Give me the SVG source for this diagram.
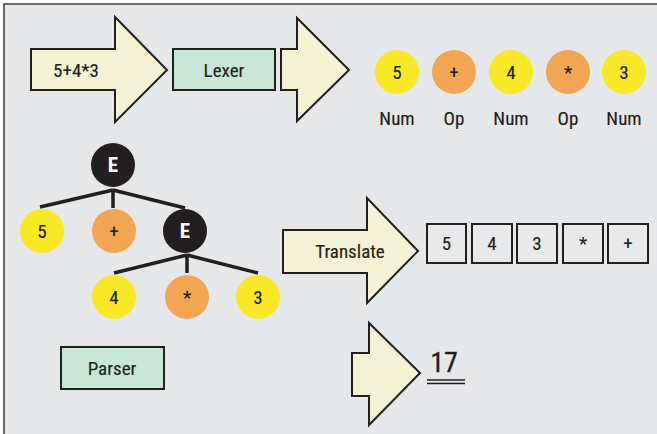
<svg xmlns="http://www.w3.org/2000/svg" width="657" height="434" viewBox="0 0 657 434">
<style>
.t{font-family:Roboto,"Liberation Sans",sans-serif;font-stretch:condensed;font-weight:400;font-size:19px;fill:#231f20;stroke:#231f20;stroke-width:0.15;text-anchor:middle;dominant-baseline:central}
.arr{fill:#f3f2d5;stroke:#231f20;stroke-width:2;stroke-linejoin:miter}
.box{fill:#c9e7d7;stroke:#231f20;stroke-width:2}
.sq{fill:#e8e9ea;stroke:#231f20;stroke-width:2}
.y{fill:#f8e826}
.o{fill:#f2a553}
.k{fill:#231f20}
.w{fill:#ffffff;stroke:none;font-weight:bold;font-size:21px}
.ln{stroke:#231f20;stroke-width:3.5;fill:none}
</style>
<rect x="0" y="0" width="657" height="434" fill="#ffffff"/>
<rect x="4" y="4" width="653" height="430" fill="#e6e7e8"/>
<path d="M4 434V4H657" fill="none" stroke="#3a3a3a" stroke-width="1.5"/>

<g id="input">
<path class="arr" d="M31 49H115V17L167 70L115 122V90H31Z"/>
<text class="t" x="76" y="70">5+4*3</text>
</g>
<g id="lexer">
<rect class="box" x="173" y="49" width="102" height="41"/>
<text class="t" x="224" y="70">Lexer</text>
</g>
<g id="arrow2">
<path class="arr" d="M281 49H297V18L349 70L297 121V90H281Z"/>
</g>

<g id="tokens">
<circle class="y" cx="397" cy="72" r="22"/><text class="t" x="397" y="72">5</text>
<circle class="o" cx="454" cy="72" r="22"/><text class="t" x="454" y="72">+</text>
<circle class="y" cx="511" cy="72" r="22"/><text class="t" x="511" y="72">4</text>
<circle class="o" cx="568" cy="72" r="22"/><text class="t" x="568" y="72">*</text>
<circle class="y" cx="624" cy="72" r="22"/><text class="t" x="624" y="72">3</text>
<text class="t" x="397" y="118">Num</text>
<text class="t" x="454" y="118">Op</text>
<text class="t" x="511" y="118">Num</text>
<text class="t" x="568" y="118">Op</text>
<text class="t" x="624" y="118">Num</text>
</g>

<g id="connectors">
<path class="ln" d="M113 190L40 207M113 190V208M113 190L185 208"/>
<path class="ln" d="M187 255L114 273M187 255V273M187 255L258 273"/>
</g>

<g id="tree">
<circle class="k" cx="113" cy="165" r="22"/><text class="t w" x="113" y="165">E</text>
<circle class="y" cx="42" cy="231" r="22"/><text class="t" x="42" y="231">5</text>
<circle class="o" cx="114" cy="231" r="22"/><text class="t" x="114" y="231">+</text>
<circle class="k" cx="185" cy="231" r="22"/><text class="t w" x="185" y="231">E</text>
<circle class="y" cx="114" cy="297" r="22"/><text class="t" x="114" y="297">4</text>
<circle class="o" cx="187" cy="297" r="22"/><text class="t" x="187" y="297">*</text>
<circle class="y" cx="258" cy="297" r="22"/><text class="t" x="258" y="297">3</text>
</g>

<g id="parser">
<rect class="box" x="61" y="347" width="103" height="42"/>
<text class="t" x="112" y="368">Parser</text>
</g>

<g id="translate">
<path class="arr" d="M283 230H367V198L418 251L367 303V273H283Z"/>
<text class="t" x="350" y="251">Translate</text>
</g>

<g id="stack">
<rect class="sq" x="427" y="224" width="39" height="39"/><text class="t" x="446.5" y="243.5">5</text>
<rect class="sq" x="472" y="224" width="40" height="39"/><text class="t" x="492" y="243.5">4</text>
<rect class="sq" x="517" y="224" width="40" height="39"/><text class="t" x="537" y="243.5">3</text>
<rect class="sq" x="563" y="224" width="40" height="39"/><text class="t" x="583" y="243.5">*</text>
<rect class="sq" x="608" y="224" width="40" height="39"/><text class="t" x="628" y="243.5">+</text>
</g>

<g id="result">
<path class="arr" d="M352 353H369V323L420 373L369 425V396H352Z"/>
<text x="444" y="372" style="font-family:Roboto,'Liberation Sans',sans-serif;font-stretch:condensed;font-weight:400;font-size:28px;fill:#231f20;stroke:#231f20;stroke-width:0.3;text-anchor:middle">17</text>
<path d="M427 380H465M427 383.5H465" stroke="#231f20" stroke-width="1.5"/>
</g>
</svg>
